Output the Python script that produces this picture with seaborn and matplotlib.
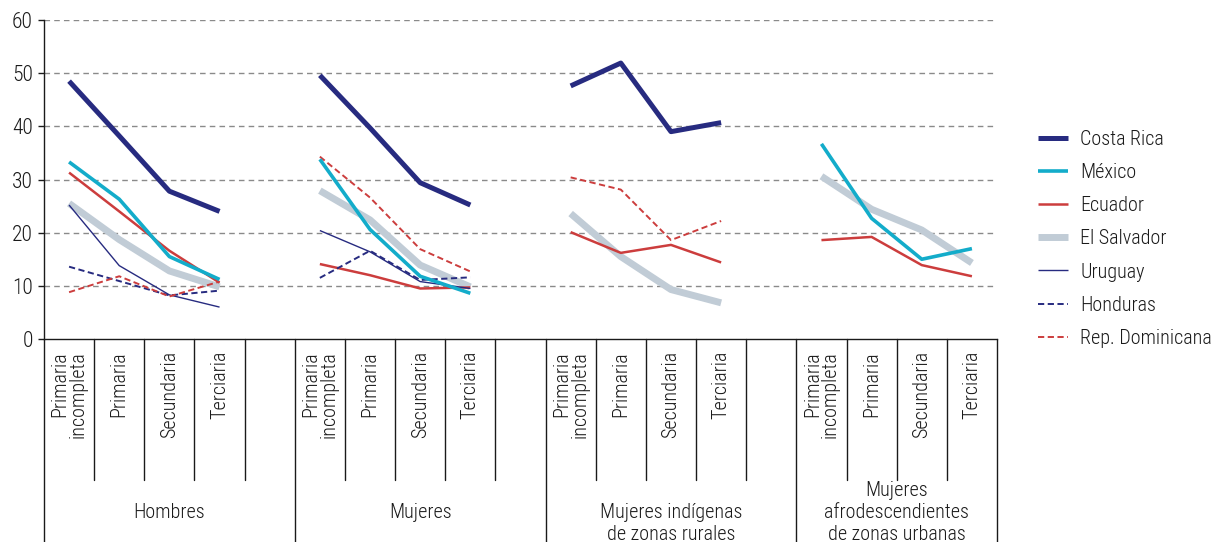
import numpy as np
import pandas as pd
import matplotlib
matplotlib.use('Agg')
import matplotlib.pyplot as plt
from matplotlib.lines import Line2D
import seaborn as sns

nan = np.nan

# Categories
grupos = ['Hombres', 'Mujeres', 'Mujeres indígenas\nde zonas rurales',
          'Mujeres\nafrodescendientes\nde zonas urbanas']
niveles = ['Primaria\nincompleta', 'Primaria', 'Secundaria', 'Terciaria']

# Series values (4 niveles per grupo, in grupo order)
costa_rica = [48.5, 38.2, 27.8, 24.0, 49.6, 39.7, 29.4, 25.2,
              47.6, 51.9, 39.0, 40.7, nan, nan, nan, nan]
mexico = [33.3, 26.3, 15.5, 11.2, 33.8, 20.6, 11.8, 8.6,
          nan, nan, nan, nan, 36.7, 22.7, 15.0, 17.0]
ecuador = [31.3, 24.0, 16.6, 10.6, 14.1, 12.0, 9.5, 9.7,
           20.1, 16.2, 17.7, 14.4, 18.6, 19.2, 13.9, 11.8]
el_salvador = [25.5, 18.7, 12.8, 9.8, 27.9, 22.4, 13.9, 9.8,
               23.6, 15.5, 9.3, 6.8, 30.6, 24.4, 20.5, 14.3]
uruguay = [25.2, 13.8, 8.3, 6.0, 20.4, 16.4, 10.8, 9.5,
           nan, nan, nan, nan, nan, nan, nan, nan]
honduras = [13.6, 10.9, 8.2, 9.1, 11.5, 16.6, 11.1, 11.6,
            nan, nan, nan, nan, nan, nan, nan, nan]
rep_dominicana = [8.8, 11.8, 8.0, 10.8, 34.3, 26.6, 16.9, 12.7,
                  30.4, 28.1, 18.6, 22.2, nan, nan, nan, nan]

paises = ['Costa Rica', 'México', 'Ecuador', 'El Salvador', 'Uruguay',
          'Honduras', 'Rep. Dominicana']
valores = [costa_rica, mexico, ecuador, el_salvador, uruguay, honduras,
           rep_dominicana]

# Styles
estilos = {
    'Costa Rica': dict(color='#272b80', lw=3.6, ls='-'),
    'México': dict(color='#13acca', lw=2.6, ls='-'),
    'Ecuador': dict(color='#cc3d3d', lw=1.8, ls='-'),
    'El Salvador': dict(color='#c1ccd6', lw=5.0, ls='-'),
    'Uruguay': dict(color='#272b80', lw=1.0, ls='-'),
    'Honduras': dict(color='#272b80', lw=1.4, ls=(0, (3.2, 1.8))),
    'Rep. Dominicana': dict(color='#cc3d3d', lw=1.4, ls=(0, (3.2, 1.8))),
}
orden = ['El Salvador', 'Ecuador', 'Uruguay', 'Honduras', 'Rep. Dominicana',
         'México', 'Costa Rica']

# Long table
filas = []
for pais, vals in zip(paises, valores):
    for g in range(len(grupos)):
        for n in range(len(niveles)):
            v = vals[g * 4 + n]
            if not np.isnan(v):
                filas.append(dict(pais=pais, grupo=g, pos=g * 5 + n, valor=v))
df = pd.DataFrame(filas)

sns.set_style('white')
plt.rcParams['font.family'] = ['Roboto Condensed', 'DejaVu Sans Condensed',
                               'Roboto', 'DejaVu Sans']
plt.rcParams['font.weight'] = 'light'

W, H = 1220, 542
fig = plt.figure(figsize=(W / 100, H / 100), dpi=100)
x0, x1, y_top, y_bot = 44, 997, 20, 339
ax = fig.add_axes([x0 / W, 1 - y_bot / H, (x1 - x0) / W, (y_bot - y_top) / H])

for pais in orden:
    e = estilos[pais]
    sns.lineplot(data=df[df.pais == pais], x='pos', y='valor', units='grupo',
                 estimator=None, color=e['color'], linewidth=e['lw'],
                 linestyle=e['ls'], ax=ax, legend=False,
                 solid_capstyle='butt', dash_capstyle='butt')

ax.set_xlim(-0.5, 18.5)
ax.set_ylim(0, 60)
ax.set_yticks(range(0, 61, 10))
ax.set_xticks([])
ax.set_xlabel('')
ax.set_ylabel('')
ax.tick_params(axis='y', left=True, length=4, width=1, pad=4, labelsize=15.5,
               colors='#1a1a1a')
for y in range(10, 61, 10):
    ax.axhline(y, color='#8a8a8a', lw=1, ls=(0, (4, 3)), zorder=0)
for s in ['top', 'right']:
    ax.spines[s].set_visible(False)
for s in ['left', 'bottom']:
    ax.spines[s].set_color('#1a1a1a')
    ax.spines[s].set_linewidth(1)

# Category axis drawn below the plot
tr = ax.get_xaxis_transform()
alto = y_bot - y_top
corto = -(480 - y_bot) / alto
largo = -(H - y_bot) / alto
limites = [-0.5, 4.5, 9.5, 14.5, 18.5]
for i in range(20):
    xb = i - 0.5
    yb = largo if xb in limites else corto
    ax.add_line(Line2D([xb, xb], [0, yb], transform=tr, color='#1a1a1a',
                       lw=1, clip_on=False))
for g in range(len(grupos)):
    for n, nivel in enumerate(niveles):
        ax.text(g * 5 + n, -(351 - y_bot) / alto, nivel, transform=tr,
                rotation=90, ha='center', va='top', multialignment='right',
                fontsize=14.5, color='#1a1a1a', linespacing=0.95)
grupo_y = [513, 513, 523.5, 512.5]
for g, nombre in enumerate(grupos):
    xc = (limites[g] + limites[g + 1]) / 2
    ax.text(xc, -(grupo_y[g] - y_bot) / alto, nombre, transform=tr,
            ha='center', va='center', fontsize=14.5, color='#1a1a1a',
            linespacing=1.2)

handles = [Line2D([], [], color=estilos[p]['color'], lw=estilos[p]['lw'],
                  ls=estilos[p]['ls'], solid_capstyle='butt') for p in paises]
fig.legend(handles, paises, loc='upper left',
           bbox_to_anchor=(1020 / W, 1 - 112 / H), frameon=False,
           fontsize=14.5, handlelength=1.5, labelspacing=0.7,
           handletextpad=0.6, labelcolor='#1a1a1a')

fig.savefig('out.png', dpi=100)
